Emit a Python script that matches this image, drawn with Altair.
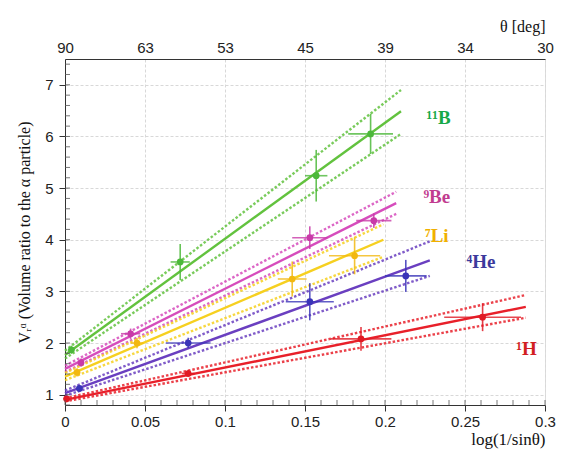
import altair as alt
import pandas as pd

# ---- data ----
series = ["11B", "9Be", "7Li", "4He", "1H"]
line_colors = ["#62c23e", "#d64cbc", "#f6d020", "#6a3fc0", "#e8202a"]
point_colors = ["#4cb83a", "#c83aa8", "#f2b810", "#3a34b8", "#e01a24"]
label_colors = ["#17a948", "#c13c90", "#f0b000", "#3c3a9c", "#d21e22"]
label_texts = ["¹¹B", "⁹Be", "⁷Li", "⁴He", "¹H"]
label_x = [0.226, 0.224, 0.225, 0.251, 0.282]
label_y = [6.36, 4.82, 4.08, 3.57, 1.89]

# points: x, y, x-error, y-error
pt_series = (["11B"] * 4 + ["9Be"] * 4 + ["7Li"] * 4 + ["4He"] * 4 + ["1H"] * 4)
pt_x = [0.004, 0.072, 0.157, 0.191,
        0.010, 0.041, 0.153, 0.193,
        0.0075, 0.045, 0.142, 0.181,
        0.009, 0.077, 0.153, 0.213,
        0.001, 0.077, 0.185, 0.261]
pt_y = [1.87, 3.57, 5.24, 6.05,
        1.62, 2.18, 4.04, 4.37,
        1.43, 2.00, 3.24, 3.69,
        1.12, 2.00, 2.80, 3.30,
        0.92, 1.41, 2.08, 2.50]
pt_xerr = [0.002, 0.006, 0.007, 0.014,
           0.002, 0.006, 0.011, 0.011,
           0.002, 0.004, 0.009, 0.016,
           0.002, 0.014, 0.015, 0.013,
           0.002, 0.004, 0.019, 0.024]
pt_yerr = [0.08, 0.35, 0.50, 0.39,
           0.08, 0.10, 0.22, 0.14,
           0.08, 0.10, 0.34, 0.36,
           0.06, 0.10, 0.36, 0.31,
           0.05, 0.07, 0.23, 0.27]

# fitted lines: start x, end x, central y, upper y, lower y (at start and end)
fit_x0 = [0.0, 0.0, 0.0, 0.0, 0.0]
fit_x1 = [0.210, 0.207, 0.199, 0.228, 0.288]
fit_y0 = [1.77, 1.50, 1.35, 1.03, 0.90]
fit_y1 = [6.49, 4.71, 4.00, 3.60, 2.70]
up_y0 = [1.85, 1.56, 1.42, 1.08, 0.93]
up_y1 = [6.90, 4.93, 4.30, 3.97, 2.93]
lo_y0 = [1.70, 1.44, 1.28, 0.98, 0.87]
lo_y1 = [6.05, 4.50, 3.67, 3.30, 2.49]

x_ticks = [0, 0.05, 0.1, 0.15, 0.2, 0.25, 0.3]
theta_labels = ["90", "63", "53", "45", "39", "34", "30"]
y_ticks = [1, 2, 3, 4, 5, 6, 7]

# ---- tables ----
pts = pd.DataFrame({"s": pt_series, "x": pt_x, "y": pt_y,
                    "xe": pt_xerr, "ye": pt_yerr})
pts["xl"] = pts.x - pts.xe
pts["xh"] = pts.x + pts.xe
pts["yl"] = pts.y - pts.ye
pts["yh"] = pts.y + pts.ye

rows = []
for i, s in enumerate(series):
    for kind, a, b in [("fit", fit_y0[i], fit_y1[i]),
                       ("up", up_y0[i], up_y1[i]),
                       ("lo", lo_y0[i], lo_y1[i])]:
        rows.append({"s": s, "kind": kind, "id": s + kind, "x": fit_x0[i], "y": a})
        rows.append({"s": s, "kind": kind, "id": s + kind, "x": fit_x1[i], "y": b})
lines = pd.DataFrame(rows)

labels = pd.DataFrame({"s": series, "t": label_texts, "x": label_x, "y": label_y})

xdom = [0, 0.3]
ydom = [0.8, 7.5]
xscale = alt.Scale(domain=xdom, nice=False, zero=False)
yscale = alt.Scale(domain=ydom, nice=False, zero=False)
lcol = alt.Color("s:N", scale=alt.Scale(domain=series, range=line_colors), legend=None)
pcol = alt.Color("s:N", scale=alt.Scale(domain=series, range=point_colors), legend=None)

tickfont = "Liberation Sans"
serif = "Liberation Serif"

x_bottom = alt.Axis(values=x_ticks, orient="bottom", title="log(1/sinθ)",
                    format="~g",
                    titleAnchor="end", titleFont=serif, titleFontSize=17,
                    titleFontWeight="normal", titlePadding=2,
                    labelFont=tickfont, labelFontSize=15, labelColor="#222",
                    labelFlush=False, labelPadding=3,
                    grid=True, gridColor="#d8d8d8", gridDash=[3, 2],
                    tickColor="#333", tickSize=6, domainColor="#333",
                    titleColor="#111")
labexpr = "[" + ",".join("'" + t + "'" for t in theta_labels) + "][round(datum.value/0.05)]"
x_top = alt.Axis(values=x_ticks, orient="top", title="θ [deg]",
                 titleAnchor="end", titleFont=serif, titleFontSize=16,
                 titleFontWeight="normal", titlePadding=6, titleColor="#111",
                 labelExpr=labexpr, labelFont=tickfont, labelFontSize=15,
                 labelColor="#222", labelFlush=False, labelPadding=4,
                 grid=False, ticks=False, domainColor="#333")
y_axis = alt.Axis(values=y_ticks, title="Vᵣᵅ (Volume ratio to the α particle)",
                  titleFont=serif, titleFontSize=16, titleFontWeight="normal",
                  titleColor="#111", titlePadding=12,
                  labelFont=tickfont, labelFontSize=15, labelColor="#222",
                  labelPadding=6, grid=True, gridColor="#d8d8d8", gridDash=[3, 2],
                  tickColor="#333", tickSize=6, domainColor="#333")

minor_x = [round(0.01 * i, 2) for i in range(31)]
minor_y = [round(0.8 + 0.2 * i, 2) for i in range(34)]

NX = alt.X("x:Q", scale=xscale, axis=None)
YY = alt.Y("y:Q", scale=yscale, axis=y_axis)

base_lines = alt.Chart(lines)
fit = base_lines.transform_filter("datum.kind == 'fit'").mark_line(strokeWidth=2.4).encode(
    x=alt.X("x:Q", scale=xscale, axis=x_bottom),
    y=YY, color=lcol, detail="id:N")
band = base_lines.transform_filter("datum.kind != 'fit'").mark_line(
    strokeWidth=2.4, strokeDash=[2.5, 2], opacity=0.85).encode(
    x=NX, y=YY, color=lcol, detail="id:N")

bp = alt.Chart(pts)
xerr = bp.mark_rule(strokeWidth=1.6, opacity=0.8).encode(
    x=alt.X("xl:Q", scale=xscale, axis=None), x2="xh:Q", y=YY, color=pcol)
yerr = bp.mark_rule(strokeWidth=1.6, opacity=0.85).encode(
    x=NX, y=alt.Y("yl:Q", scale=yscale, axis=y_axis), y2="yh:Q", color=pcol)
dots = bp.mark_circle(size=45, opacity=1).encode(x=NX, y=YY, color=pcol)

txt = alt.Chart(labels).mark_text(font=serif, fontSize=19, fontWeight="bold",
                                  align="left", baseline="middle").encode(
    x=NX, y=YY, text="t:N",
    color=alt.Color("s:N", scale=alt.Scale(domain=series, range=label_colors), legend=None))

# minor ticks along bottom and left
mtx = alt.Chart(pd.DataFrame({"x": minor_x})).mark_rule(color="#555", strokeWidth=0.8).encode(
    x=NX, y=alt.value(346), y2=alt.value(341))
mty = alt.Chart(pd.DataFrame({"y": minor_y})).mark_rule(color="#555", strokeWidth=0.8).encode(
    y=YY, x=alt.value(0), x2=alt.value(5))

top = alt.Chart(pd.DataFrame({"x": [0.0, 0.3]})).mark_point(opacity=0).encode(
    x=alt.X("x:Q", scale=xscale, axis=x_top))

chart = alt.layer(fit, top, band, xerr, yerr, dots, txt, mtx, mty).resolve_axis(
    x="independent").resolve_scale(color="independent").properties(
    width=480, height=346,
    autosize=alt.AutoSizeParams(type="none"),
    padding={"left": 57, "top": 51, "right": 12, "bottom": 46},
).configure_view(stroke="#333", strokeWidth=1.2).configure(background="white")

chart.save("out.html", embed_options={"renderer": "svg", "actions": False})
